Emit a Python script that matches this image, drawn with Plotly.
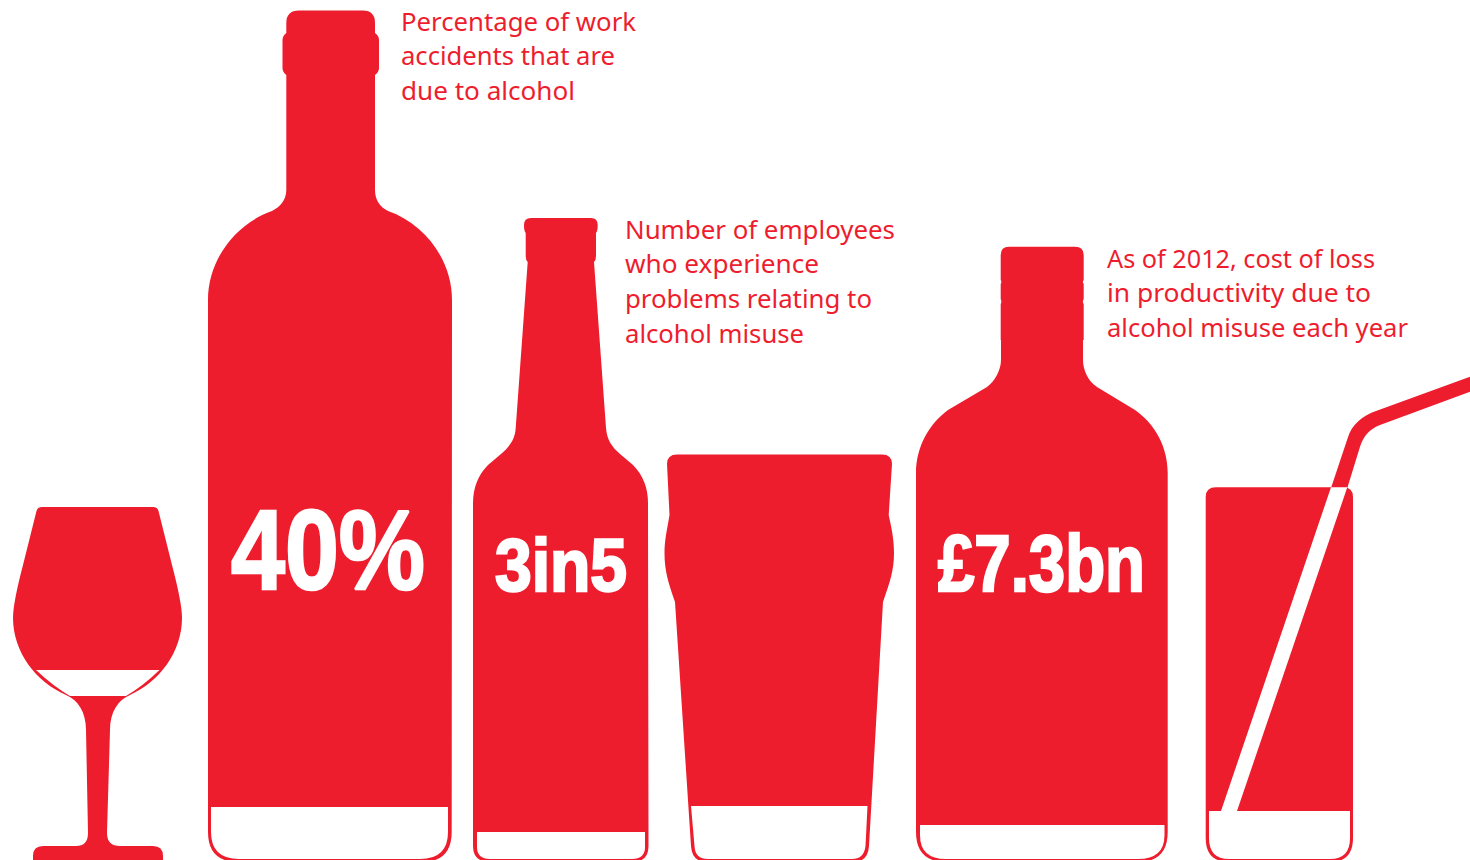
import json
import plotly.graph_objects as go

RED = "#EE1D2E"
WHITE = "#FFFFFF"

headline_values = ["40%", "3in5", "£7.3bn"]
headline_sizes = [114, 74, 80]
headline_x = [328, 561, 1041.5]
headline_y = [560, 572.4, 571]
headline_widths = [194, 132, 207]

caption_a = ["Percentage of work", "accidents that are", "due to alcohol"]
caption_b = ["Number of employees", "who experience", "problems relating to", "alcohol misuse"]
caption_c = ["As of 2012, cost of loss", "in productivity due to", "alcohol misuse each year"]
caption_widths = [235, 214, 174, 270, 194, 247, 179, 268, 264, 301]

# Pictogram outlines, in picture coordinates
wine_glass = ("M42,507 L153,507 Q157.5,507 158.5,511 L172,565 Q182,603 182,618 C182,652 159,682 130,695 "
              "C118,700 110,712 110,730 L107,833 Q107,846 120,846 L153,846 Q163,846 163,856 L163,862 L33,862 "
              "L33,856 Q33,846 43,846 L76,846 Q88,846 88,833 L86,730 C86,712 78,700 66,695 "
              "C36,682 13,652 13,618 Q13,603 23,565 L36.5,511 Q37.5,507 42,507 Z")
wine_gap = "M36,670 L159.5,670 Q143,686 126,696 L70,696 Q53,686 36,670 Z"

tall_bottle = ("M299,10.5 L363,10.5 Q375,10.5 375,23 L375,33 Q379,36 379,40 L379,68 Q379,72 375,75 "
               "L375,190 C375,200 380,207 388,211 C425,224 452,260 452,300 L451.7,832 Q451.7,862 422,862 "
               "L238,862 Q208,862 208,832 L208,300 C208,260 235,224 272,211 C280,207 286.3,200 286.3,190 "
               "L286.3,75 Q282.5,72 282.5,68 L282.5,40 Q282.5,36 286.3,33 L286.3,23 Q286.3,10.5 299,10.5 Z")
tall_gap = "M211,807 L448,807 L448,832 Q448,859 420,859 L239,859 Q211,859 211,832 Z"

beer_bottle = ("M531,218 L591,218 Q597.7,218 597.7,225 Q597.7,231 596,233 L596,256 Q596,260 594,262 "
               "L606,428 C607,440 612,447 620,454 L633,465 C643,475 648,488 648,503 L648.5,846 Q648.5,862 632,862 "
               "L490,862 Q473,862 473,846 L473,503 C473,488 478,475 488,465 L501,454 C509,447 515,440 515.7,428 "
               "L527.7,262 Q525.7,260 525.7,256 L525.7,233 Q524,231 524,225 Q524,218 531,218 Z")
beer_gap = "M477,832 L645,832 L645,847 Q645,859 632,859 L490,859 Q477,859 477,847 Z"

pint_glass = ("M677,454.5 L882,454.5 Q892,454.5 892,464 L888.7,515 C892,530 894,540 894,553 "
              "C894,570 890,582 883,602 L869,846 Q868,862 853,862 L707,862 Q692,862 691,846 L675,602 "
              "C668,582 664.5,570 664.5,553 C664.5,540 667,530 669.5,515 L667,464 Q667,454.5 677,454.5 Z")
pint_gap = "M691,806 L867.5,806 L865.5,846 Q864,859 852,859 L708,859 Q695,859 694.5,846 Z"

spirit_bottle = ("M1009,246.7 L1075,246.7 Q1083.7,246.7 1083.7,255 L1083.7,280 Q1082,282 1083.7,284 L1083.7,299 "
                 "Q1082,302 1083.7,304 L1083.7,340 L1083,340 L1083,360 C1083,370 1088,381 1097,387 L1135,410 "
                 "C1155,424 1167.7,447 1167.7,473 L1167.7,832 Q1167.7,862 1138,862 L946,862 Q916,862 916,832 "
                 "L916,473 C916,447 929,424 948,410 L987,387 C995,381 1001,370 1001,360 L1001,340 L1000.7,340 "
                 "L1000.7,304 Q1002,302 1000.7,299 L1000.7,284 Q1002,282 1000.7,280 L1000.7,255 Q1000.7,246.7 1009,246.7 Z")
spirit_gap = "M920,825 L1164.5,825 L1164.5,835 Q1164.5,859 1138,859 L946,859 Q920,859 920,835 Z"

tumbler = ("M1216,487.3 L1343,487.3 Q1353,487.3 1353,497 L1353,838 Q1353,862 1330,862 L1229,862 "
           "Q1205.7,862 1205.7,838 L1205.7,497 Q1205.7,487.3 1216,487.3 Z")
straw_outer = ("M1331,488 L1347.7,438 C1352,424 1362,416 1376.7,410.7 L1470,376.7 L1470,391.7 L1380,425 "
               "C1370,429 1364,435 1360,446.7 L1347.3,488 Z")
straw_gap = "M1331,487.3 L1347.3,487.3 L1237,811 L1350,811 L1350,838 Q1350,859 1330,859 L1229,859 Q1209,859 1209,838 L1209,811 L1221,811 Z"

red_paths = [wine_glass, tall_bottle, beer_bottle, pint_glass, spirit_bottle, tumbler, straw_outer]
white_paths = [wine_gap, tall_gap, beer_gap, pint_gap, spirit_gap, straw_gap]

shapes = []
for p in red_paths:
    shapes.append(dict(type="path", path=p, xref="x", yref="y", fillcolor=RED, line=dict(width=0), layer="below"))
for p in white_paths:
    shapes.append(dict(type="path", path=p, xref="x", yref="y", fillcolor=WHITE, line=dict(width=0), layer="below"))

fig = go.Figure()
fig.add_trace(go.Scatter(
    x=headline_x, y=headline_y, text=headline_values, mode="text",
    textposition="middle center", cliponaxis=False, hoverinfo="skip", showlegend=False,
    textfont=dict(family="Liberation Sans", size=headline_sizes, color=WHITE, weight="bold"),
))

anns = []
def add_caption(lines, x, y0, dy):
    for i, t in enumerate(lines):
        anns.append(dict(text=t, x=x, y=y0 + i * dy, xref="x", yref="y", xanchor="left", yanchor="middle",
                         showarrow=False, align="left", borderpad=0,
                         font=dict(family="Noto Sans", size=26, color=RED)))
add_caption(caption_a, 400, 20.5, 34.8)
add_caption(caption_b, 624, 228.5, 34.8)
add_caption(caption_c, 1106, 257.5, 34.6)

fig.update_layout(
    width=1470, height=860, margin=dict(l=0, r=0, t=0, b=0),
    paper_bgcolor=WHITE, plot_bgcolor=WHITE, showlegend=False, hovermode=False,
    xaxis=dict(range=[0, 1470], visible=False, fixedrange=True),
    yaxis=dict(range=[860, 0], visible=False, fixedrange=True),
    shapes=shapes, annotations=anns,
)

post = """
document.body.style.margin='0';document.body.style.overflow='hidden';
(function(){
  var hw=%s, cw=%s;
  function fit(){
    document.querySelectorAll('.textpoint text').forEach(function(t,i){
      if(t.getAttribute('textLength'))return;
      t.setAttribute('textLength',hw[i]);t.setAttribute('lengthAdjust','spacingAndGlyphs');
      t.style.stroke='#FFFFFF';t.style.strokeWidth='2.5px';
    });
    document.querySelectorAll('.annotation-text').forEach(function(t,i){
      if(t.getAttribute('textLength'))return;
      var b=t.getBBox();
      t.setAttribute('text-anchor','start');t.setAttribute('x',b.x);
      t.setAttribute('textLength',cw[i]);t.setAttribute('lengthAdjust','spacingAndGlyphs');
    });
  }
  fit();setTimeout(fit,50);
})();
""" % (json.dumps(headline_widths), json.dumps(caption_widths))

fig.write_html("out.html", config=dict(displayModeBar=False), post_script=post)
